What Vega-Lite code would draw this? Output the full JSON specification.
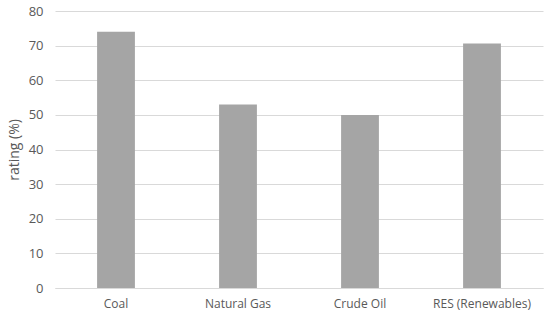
{
  "$schema": "https://vega.github.io/schema/vega-lite/v6.json",
  "width": 488,
  "height": 277,
  "autosize": {"type": "none"},
  "padding": {"left": 55, "top": 11, "right": 7, "bottom": 32},
  "background": "white",
  "data": {"values": [
    {"source": "Coal", "rating": 74},
    {"source": "Natural Gas", "rating": 53},
    {"source": "Crude Oil", "rating": 50},
    {"source": "RES (Renewables)", "rating": 70.6}
  ]},
  "mark": {"type": "bar", "color": "#a5a5a5"},
  "encoding": {
    "x": {
      "field": "source", "type": "nominal", "sort": null,
      "scale": {"paddingInner": 0.69, "paddingOuter": 0.345},
      "axis": {"title": null, "labelAngle": 0, "ticks": false, "domainColor": "#d9d9d9", "domainWidth": 1, "labelPadding": 10, "labelFont": "Open Sans", "labelFontSize": 12, "labelColor": "#595959"}
    },
    "y": {
      "field": "rating", "type": "quantitative",
      "scale": {"domain": [0, 80]},
      "axis": {"title": "rating (%)", "values": [0,10,20,30,40,50,60,70,80], "ticks": false, "domain": false, "gridColor": "#d9d9d9", "labelPadding": 12, "labelFont": "Open Sans", "labelFontSize": 13, "labelColor": "#595959", "titleFont": "Open Sans", "titleFontSize": 14, "titleFontWeight": "normal", "titleColor": "#595959", "titlePadding": 7}
    }
  },
  "config": {"view": {"stroke": null}}
}
